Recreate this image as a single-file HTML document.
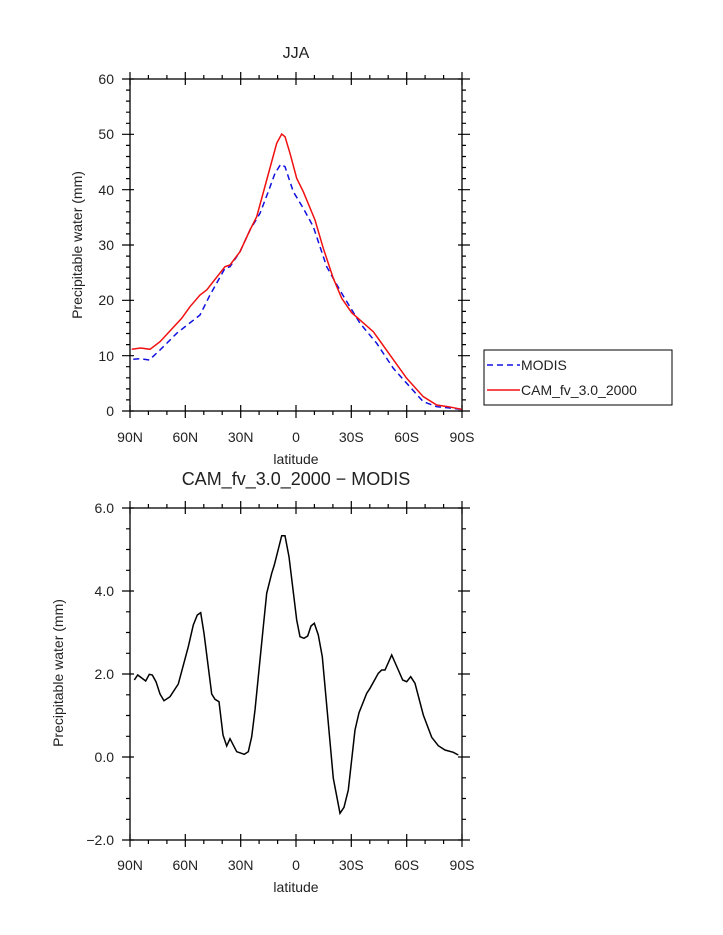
<!DOCTYPE html>
<html><head><meta charset="utf-8"><style>
html,body{margin:0;padding:0;background:#fff}
svg{display:block}
text{font-family:"Liberation Sans","DejaVu Sans",sans-serif;fill:#222}
</style></head><body>
<svg width="723" height="935" viewBox="0 0 723 935" xmlns="http://www.w3.org/2000/svg">
<g font-size="14">
<text x="296" y="58" text-anchor="middle" font-size="16">JJA</text>
<!-- top frame -->
<rect x="130" y="79" width="332" height="332" fill="none" stroke="#000" stroke-width="1.3"/>
<g stroke="#000" stroke-width="1.2">
<!-- x major ticks top plot -->
<path d="M130,405V418M185.3,405V418M240.7,405V418M296,405V418M351.3,405V418M406.7,405V418M462,405V418
M130,85V72M185.3,85V72M240.7,85V72M296,85V72M351.3,85V72M406.7,85V72M462,85V72"/>
<path d="M148.4,411V415M166.9,411V415M203.8,411V415M222.2,411V415M259.1,411V415M277.6,411V415M314.4,411V415M332.9,411V415M369.8,411V415M388.2,411V415M425.1,411V415M443.6,411V415
M148.4,79V75M166.9,79V75M203.8,79V75M222.2,79V75M259.1,79V75M277.6,79V75M314.4,79V75M332.9,79V75M369.8,79V75M388.2,79V75M425.1,79V75M443.6,79V75"/>
<!-- y ticks -->
<path d="M122,79H134M122,134.3H134M122,189.7H134M122,245H134M122,300.3H134M122,355.7H134M122,411H134
M458,79H470M458,134.3H470M458,189.7H470M458,245H470M458,300.3H470M458,355.7H470M458,411H470"/>
<path d="M126,90.1H130M126,101.1H130M126,112.2H130M126,123.3H130M126,145.4H130M126,156.5H130M126,167.5H130M126,178.6H130M126,200.7H130M126,211.8H130M126,222.9H130M126,233.9H130M126,256.1H130M126,267.1H130M126,278.2H130M126,289.3H130M126,311.4H130M126,322.5H130M126,333.5H130M126,344.6H130M126,366.7H130M126,377.8H130M126,388.9H130M126,399.9H130
M462,90.1H466M462,101.1H466M462,112.2H466M462,123.3H466M462,145.4H466M462,156.5H466M462,167.5H466M462,178.6H466M462,200.7H466M462,211.8H466M462,222.9H466M462,233.9H466M462,256.1H466M462,267.1H466M462,278.2H466M462,289.3H466M462,311.4H466M462,322.5H466M462,333.5H466M462,344.6H466M462,366.7H466M462,377.8H466M462,388.9H466M462,399.9H466"/>
</g>
<g text-anchor="end">
<text x="114" y="84">60</text><text x="114" y="139">50</text><text x="114" y="195">40</text><text x="114" y="250">30</text><text x="114" y="305">20</text><text x="114" y="361">10</text><text x="114" y="416">0</text>
</g>
<g text-anchor="middle">
<text x="130" y="442">90N</text><text x="185.3" y="442">60N</text><text x="240.7" y="442">30N</text><text x="296" y="442">0</text><text x="351.3" y="442">30S</text><text x="406.7" y="442">60S</text><text x="462" y="442">90S</text>
<text x="296" y="464">latitude</text>
</g>
<text transform="translate(82,245) rotate(-90)" text-anchor="middle">Precipitable water (mm)</text>
<!-- curves -->
<polyline fill="none" stroke="#1010e0" stroke-width="1.5" stroke-dasharray="6,4" points="133.3,359.3 140,358.7 149.3,360 160,350 176.7,333.3 200,315 210,295 225,268.3 230,266.7 240,251.7 250,230 260,213.3 268.3,191.7 275,173.3 280.7,164.3 285,166.7 293.3,191.7 303.3,208.3 313.3,226.7 326.7,266.7 341.7,293.3 360,323.3 376.7,343.3 393.3,368.3 406.7,383.3 423.3,401.7 436.7,406.7 461.7,409.3"/>
<polyline fill="none" stroke="#f01010" stroke-width="1.5" points="131.7,349.3 140.7,348 150,349.3 160,341.7 181.7,318.3 190,306.7 200,295 206.7,290 225,266.7 230,265 240,251.7 250,230 256.7,216.7 266.7,180 276.7,143.3 281.7,134 285,136.7 290,153.3 296.7,178.3 303.3,191.7 315,220 323.3,248.3 333.3,278.3 341.7,298.3 351.7,312.7 373.3,331.7 406.7,378.3 423.3,396.7 436.7,405 448.3,406.7 461.7,409.3"/>
<!-- legend -->
<rect x="484" y="350" width="188" height="55" fill="#fff" stroke="#000" stroke-width="1"/>
<line x1="487" y1="365" x2="520" y2="365" stroke="#1010e0" stroke-width="1.5" stroke-dasharray="6,4"/>
<line x1="487" y1="390" x2="520" y2="390" stroke="#f01010" stroke-width="1.5"/>
<text x="521" y="370">MODIS</text>
<text x="521" y="395">CAM_fv_3.0_2000</text>

<!-- bottom -->
<text x="296" y="485" text-anchor="middle" font-size="18">CAM_fv_3.0_2000 − MODIS</text>
<rect x="130" y="508" width="332" height="332" fill="none" stroke="#000" stroke-width="1.3"/>
<g stroke="#000" stroke-width="1.2">
<path d="M130,834V847M185.3,834V847M240.7,834V847M296,834V847M351.3,834V847M406.7,834V847M462,834V847
M130,514V501M185.3,514V501M240.7,514V501M296,514V501M351.3,514V501M406.7,514V501M462,514V501"/>
<path d="M148.4,840V844M166.9,840V844M203.8,840V844M222.2,840V844M259.1,840V844M277.6,840V844M314.4,840V844M332.9,840V844M369.8,840V844M388.2,840V844M425.1,840V844M443.6,840V844
M148.4,508V504M166.9,508V504M203.8,508V504M222.2,508V504M259.1,508V504M277.6,508V504M314.4,508V504M332.9,508V504M369.8,508V504M388.2,508V504M425.1,508V504M443.6,508V504"/>
<path d="M122,508H134M122,591H134M122,674H134M122,757H134M122,840H134M458,508H470M458,591H470M458,674H470M458,757H470M458,840H470"/>
<path d="M126,528.8H130M126,549.5H130M126,570.3H130M126,611.8H130M126,632.5H130M126,653.3H130M126,694.8H130M126,715.5H130M126,736.3H130M126,777.8H130M126,798.5H130M126,819.3H130
M462,528.8H466M462,549.5H466M462,570.3H466M462,611.8H466M462,632.5H466M462,653.3H466M462,694.8H466M462,715.5H466M462,736.3H466M462,777.8H466M462,798.5H466M462,819.3H466"/>
</g>
<g text-anchor="end">
<text x="114" y="513">6.0</text><text x="114" y="596">4.0</text><text x="114" y="679">2.0</text><text x="114" y="762">0.0</text><text x="114" y="845">−2.0</text>
</g>
<g text-anchor="middle">
<text x="130" y="870">90N</text><text x="185.3" y="870">60N</text><text x="240.7" y="870">30N</text><text x="296" y="870">0</text><text x="351.3" y="870">30S</text><text x="406.7" y="870">60S</text><text x="462" y="870">90S</text>
<text x="296" y="892">latitude</text>
</g>
<text transform="translate(63,673) rotate(-90)" text-anchor="middle">Precipitable water (mm)</text>
<polyline fill="none" stroke="#000" stroke-width="1.5" points="134.3,680 137.7,675 145.7,681 149.3,674.3 152.3,675 156,681.7 160,694 164,700.7 170,696.7 178.3,684 188.3,646.7 193.3,625 197.3,615 200.7,612.7 204,633.3 211.7,694 215,699.3 219,701.7 223,735 226.7,746 230,738.7 236.7,751.7 244.3,754.3 248.3,751.7 251.7,736.7 255,710 263.3,626.7 266.7,593.3 271.7,573.3 274.3,565 281.7,535.7 285,535.7 289,556.7 296.7,620 300,636.7 304,638.3 307.7,636 311,626 314.3,623.3 318.3,635 322.3,656.7 333.3,778.3 340,813.3 344,807.3 348.3,790 355,730 359,712.7 366.7,693.3 370,688.3 378.3,673.3 381.7,670 385,670 388.3,662.7 391.7,655 398.3,670 402.7,680 406.7,681.7 410.7,676.7 415,683.3 423.3,715 431.7,737.3 438.3,745.7 445,750 453.3,752.3 458.3,755"/>
</g>
</svg>
</body></html>
